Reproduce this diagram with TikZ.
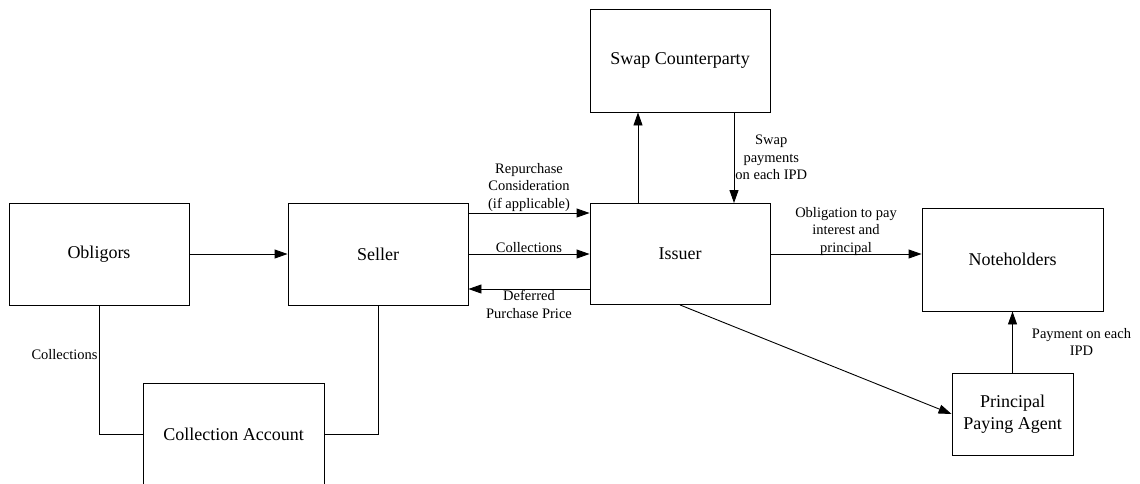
\documentclass[tikz,border=0pt]{standalone}
\usepackage{fontspec}
\setmainfont{Liberation Serif}
\usetikzlibrary{arrows.meta}

\begin{document}
\begin{tikzpicture}[x=1pt, y=-1pt, line width=0.9pt,
        box/.style={rectangle, draw, minimum width=180pt, minimum height=102pt, align=center, font=\fontsize{18}{21.5}\selectfont},
        lbl/.style={align=center, font=\fontsize{14.5}{17.5}\selectfont, inner sep=1pt},
        >={Triangle[length=13pt, width=9pt]}]
        \clip (0,0) rectangle (1140,483);

        % Parti a sinistra
        \node (O) at (99,254) [box] {Obligors};
        \node (S) at (378,254) [box] {Seller};
        \node (C) at (233.5,434) [box, minimum width=181pt] {Collection Account};

        % Parti a destra
        \node (I) at (680,254) [box, minimum height=101pt] {Issuer};
        \node (W) at (680,60.5) [box, minimum height=103pt] {Swap Counterparty};
        \node (N) at (1012.5,259.5) [box, minimum width=181pt, minimum height=103pt] {Noteholders};
        \node (P) at (1012.5,414) [box, minimum width=121pt, minimum height=82pt] {Principal\\Paying Agent};

        % Collegamenti
        \draw[->] (O) -- (S);
        \draw[->] ([yshift=41pt]S.east) -- node[lbl, above] {Repurchase\\Consideration\\(if applicable)} ([yshift=41pt]I.west);
        \draw[->] (S) -- node[lbl, above] {Collections} (I);
        \draw[->] ([yshift=-35pt]I.west) -- node[lbl, below] {Deferred\\Purchase Price} ([yshift=-35pt]S.east);
        \draw[->] ([xshift=-42pt]I.north) -- ([xshift=-42pt]W.south);
        \draw[->] ([xshift=54pt]W.south) -- node[lbl, right] {Swap\\payments\\on each IPD} ([xshift=54pt]I.north);
        \draw[->] (I.east) -- node[lbl, above, yshift=-3pt] {Obligation to pay\\interest and\\principal} (I.east -| N.west);
        \draw[->] (I.south) -- (P.west);
        \draw[->] (P) -- node[lbl, right, xshift=18pt] {Payment on each\\IPD} (N);
        \draw (O) |- node[lbl, left, pos=0.19] {Collections} (C);
        \draw (S) |- (C);
    \end{tikzpicture}
\end{document}
